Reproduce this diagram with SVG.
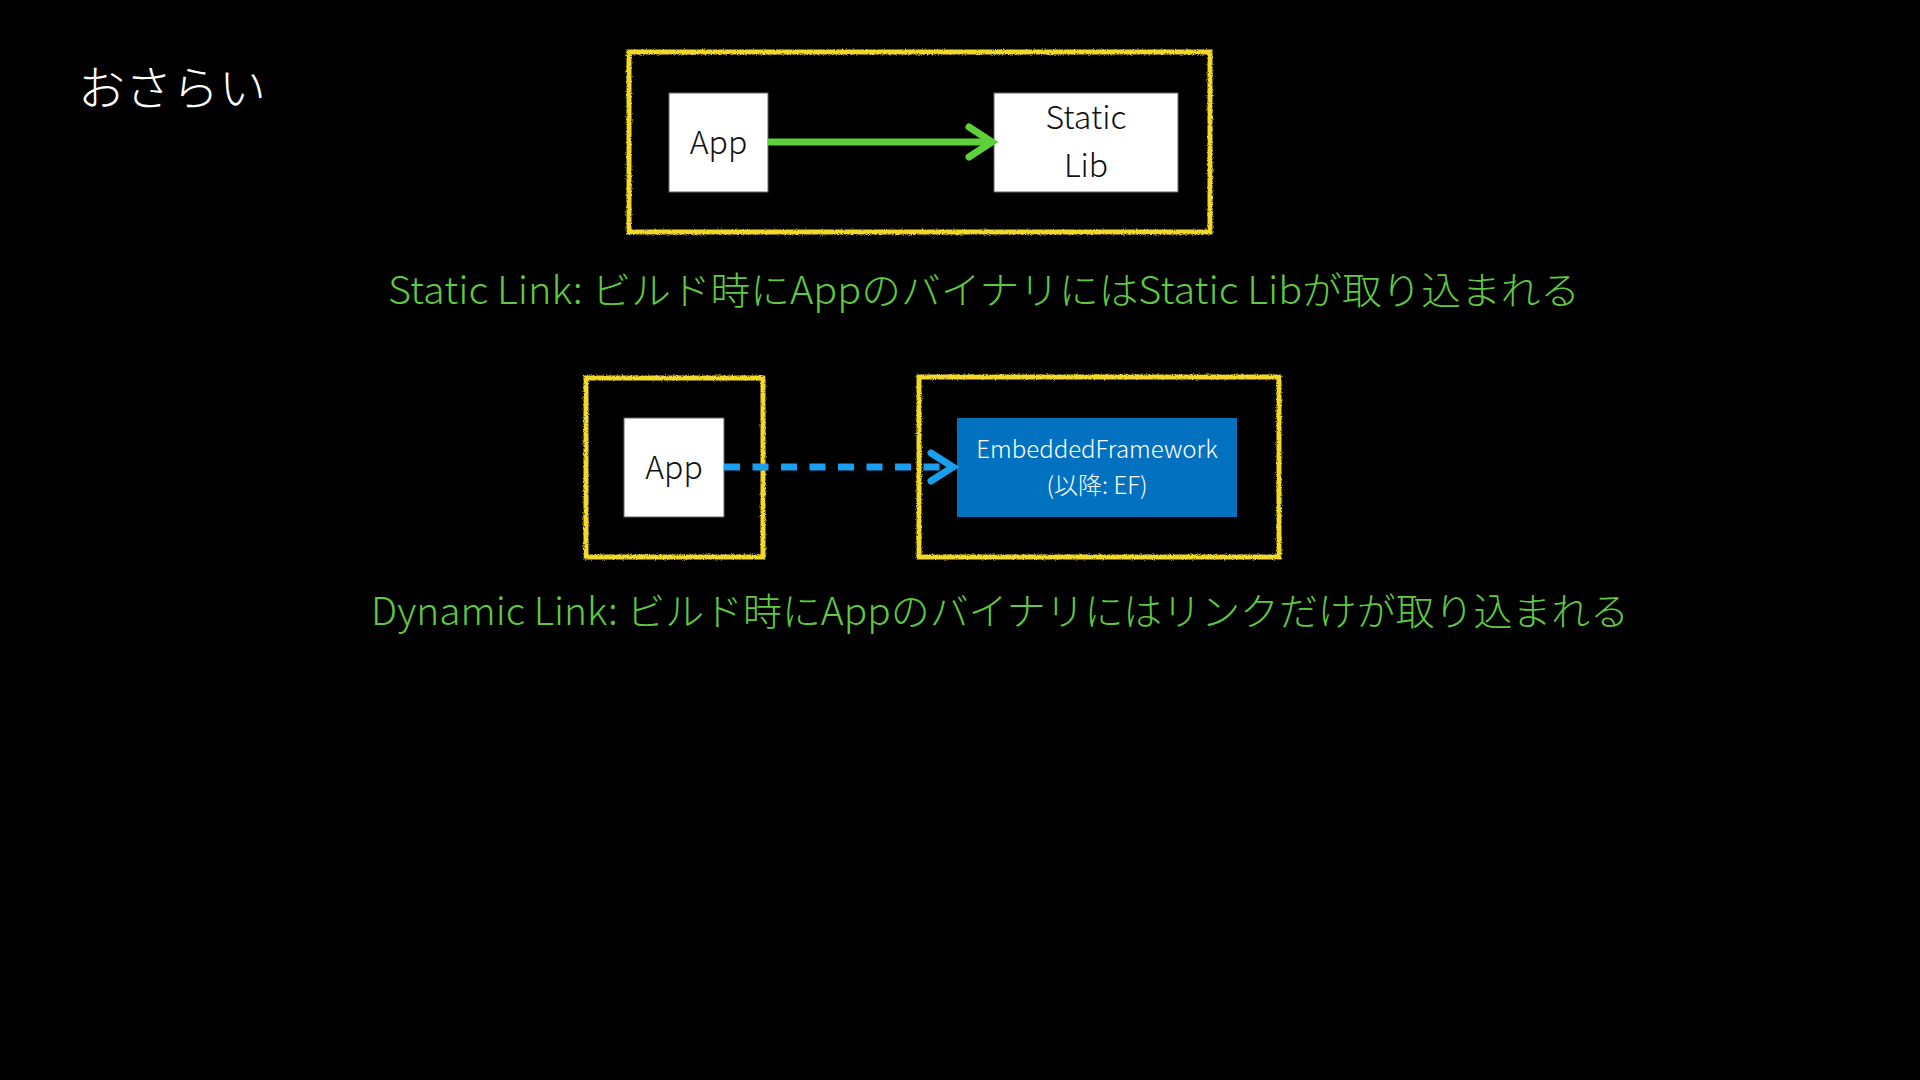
<svg xmlns="http://www.w3.org/2000/svg" width="1920" height="1080" viewBox="0 0 1920 1080">
  <defs>
    <filter id="chalk" x="-5%" y="-5%" width="110%" height="110%">
      <feTurbulence type="fractalNoise" baseFrequency="0.9" numOctaves="2" seed="3" result="n"/>
      <feDisplacementMap in="SourceGraphic" in2="n" scale="3" xChannelSelector="R" yChannelSelector="G"/>
    </filter>
    <style>
      .frame { fill: none; stroke: #f2d82c; stroke-width: 5; filter: url(#chalk); }
      .wbox { fill: #ffffff; stroke: #666; stroke-width: 1; }
      .lbl { font-family: "Noto Sans CJK JP", "Noto Sans", "Liberation Sans", sans-serif; font-weight: 300; fill: #111; font-size: 32px; text-anchor: middle; }
      .eftxt { font-family: "Noto Sans CJK JP", "Noto Sans", "Liberation Sans", sans-serif; font-weight: 300; fill: #ffffff; font-size: 24px; text-anchor: middle; }
      .cap { font-family: "Noto Sans CJK JP", "Noto Sans", "Liberation Sans", sans-serif; font-weight: 300; fill: #5fc93f; font-size: 38px; text-anchor: middle; }
      .title { font-family: "Noto Sans CJK JP", "Noto Sans", sans-serif; font-weight: 300; fill: #ffffff; font-size: 47px; }
    </style>
  </defs>
  <rect width="1920" height="1080" fill="#000000"/>

  <text class="title" x="78" y="105" textLength="188" lengthAdjust="spacingAndGlyphs">おさらい</text>

  <g id="frame-static">
    <rect class="frame" x="629" y="52" width="581" height="180"/>
  </g>
  <g id="node-app1">
    <rect class="wbox" x="669" y="93" width="99" height="99"/>
    <text class="lbl" x="718.5" y="154">App</text>
  </g>
  <g id="node-staticlib">
    <rect class="wbox" x="994" y="93" width="184" height="99"/>
    <text class="lbl" x="1086" y="129">Static</text>
    <text class="lbl" x="1086" y="177">Lib</text>
  </g>

  <g id="frame-app2">
    <rect class="frame" x="586" y="378" width="177" height="179"/>
  </g>
  <g id="frame-ef">
    <rect class="frame" x="919" y="377" width="360" height="180"/>
  </g>
  <g id="node-app2">
    <rect class="wbox" x="624" y="418" width="100" height="99"/>
    <text class="lbl" x="674" y="479">App</text>
  </g>
  <g id="node-ef">
    <rect x="957" y="418" width="280" height="99" fill="#0272c0"/>
    <text class="eftxt" x="1097" y="458">EmbeddedFramework</text>
    <text class="eftxt" x="1097" y="494">(以降: EF)</text>
  </g>

  <g id="connectors">
    <line x1="768" y1="142" x2="990" y2="142" stroke="#5dd13a" stroke-width="7"/>
    <polyline points="969,127 992,142 969,157" fill="none" stroke="#5dd13a" stroke-width="7" stroke-linecap="round" stroke-linejoin="miter"/>
    <line x1="724" y1="467" x2="948" y2="467" stroke="#1a9ef0" stroke-width="7" stroke-dasharray="16 12.5"/>
    <polyline points="931,453 953,467 931,481" fill="none" stroke="#1a9ef0" stroke-width="7" stroke-linecap="round"/>
  </g>

  <text class="cap" x="984" y="304" textLength="1192" lengthAdjust="spacingAndGlyphs">Static Link: ビルド時にAppのバイナリにはStatic Libが取り込まれる</text>
  <text class="cap" x="1000" y="625" textLength="1258" lengthAdjust="spacingAndGlyphs">Dynamic Link: ビルド時にAppのバイナリにはリンクだけが取り込まれる</text>
</svg>
